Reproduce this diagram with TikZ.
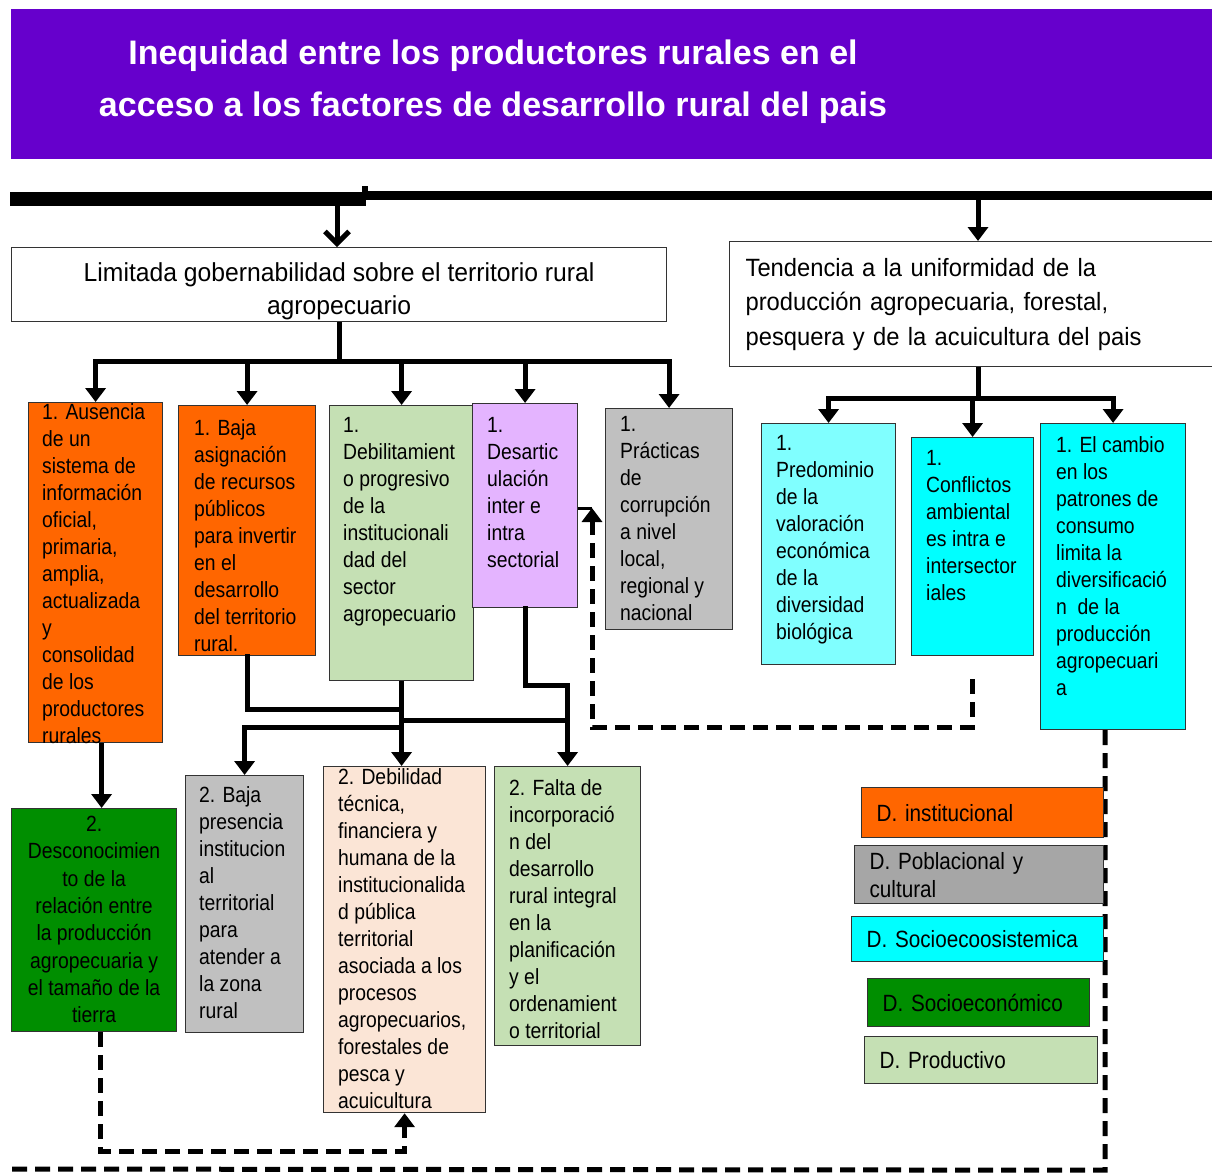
\documentclass[tikz,border=0pt]{standalone}
\usepackage{fontspec}
\setmainfont{Liberation Sans}
\newfontfamily\boxfont[FakeStretch=0.88]{Liberation Sans}
\newfontfamily\headfont[FakeStretch=0.95]{Liberation Sans}
\usetikzlibrary{arrows.meta}
\definecolor{banner}{HTML}{6600CC}
\definecolor{orangebox}{HTML}{FF6600}
\definecolor{greenbox}{HTML}{008E00}
\definecolor{palegreen}{HTML}{C5E0B4}
\definecolor{lavender}{HTML}{E4B4FF}
\definecolor{greybox}{HTML}{C0C0C0}
\definecolor{darkgreybox}{HTML}{A6A6A6}
\definecolor{peach}{HTML}{FBE5D6}
\definecolor{palecyan}{HTML}{80FFFF}
\definecolor{cyanbox}{HTML}{00FFFF}

\begin{document}
\begin{tikzpicture}[x=1pt,y=-1pt,
  cbox/.style={draw=black!80,line width=1.2pt,anchor=north west,inner sep=0pt},
  txt/.style={anchor=north west,align=left,inner sep=0pt,
    font=\boxfont\fontsize{22}{27}\selectfont},
  conn/.style={line width=5pt},
  bus/.style={line width=5pt,line cap=rect},
  arrowed/.style={-{Triangle[width=20pt,length=14pt]}},
  dashline/.style={line width=5pt,dash pattern=on 15pt off 8pt},
  legbox/.style={cbox,align=left,inner xsep=15pt,inner ysep=0pt,
    font=\boxfont\fontsize{23.5}{28}\selectfont}]
\useasboundingbox (0,0) rectangle (1212,1173);
\fill[white] (0,0) rectangle (1212,1173);
% title banner
\node[cbox,draw=none,fill=banner,minimum width=1202pt,minimum height=150pt] (banner) at (10,8) {};
\node[text=white,align=center,font=\bfseries\fontsize{34}{52}\selectfont] (title) at (493,82)
  {Inequidad entre los productores rurales en el\\acceso a los factores de desarrollo rural del pais};
% top bar
\draw[line width=14pt] (10,199) -- (366,199);
\draw[line width=9pt] (362,195) -- (1212,195);
\draw[line width=6pt] (365,186) -- (365,196);
\coordinate (barA) at (337,206);
\coordinate (barB) at (978,200);
% the two problems
\node[cbox,fill=white,minimum width=655pt,minimum height=74pt] (A) at (11,247) {};
\node[align=center,inner sep=0pt,font=\headfont\fontsize{26}{33}\selectfont] (At) at ([yshift=-7pt]A.center)
  {Limitada gobernabilidad sobre el territorio rural\\agropecuario};
\node[cbox,fill=white,minimum height=125pt,text width=460pt,inner xsep=16pt,align=left,
  font=\headfont\fontsize{25}{34.5}\selectfont] (B) at (729,241)
  {Tendencia a la uniformidad de la\\producción agropecuaria, forestal,\\pesquera y de la acuicultura del pais};
% first row of causes
\node[cbox,fill=orangebox,minimum width=134pt,minimum height=340pt] (b1) at (28,402) {};
\node[txt] (b1t) at ([shift={(14pt,-1pt)}]b1.north west)
  {1. Ausencia\\de un\\sistema de\\información\\oficial,\\primaria,\\amplia,\\actualizada\\y\\consolidad\\de los\\productores\\rurales};
\node[cbox,fill=orangebox,minimum width=137pt,minimum height=250pt] (b2) at (178,405) {};
\node[txt] (b2t) at ([shift={(16pt,-14pt)}]b2.north west)
  {1. Baja\\asignación\\de recursos\\públicos\\para invertir\\en el\\desarrollo\\del territorio\\rural.};
\node[cbox,fill=palegreen,minimum width=144pt,minimum height=275pt] (b3) at (329,405) {};
\node[txt] (b3t) at ([shift={(14pt,-12pt)}]b3.north west)
  {1.\\Debilitamient\\o progresivo\\de la\\institucionali\\dad del\\sector\\agropecuario};
\node[cbox,fill=lavender,minimum width=105pt,minimum height=204pt] (b4) at (472,403) {};
\node[txt] (b4t) at ([shift={(15pt,-14pt)}]b4.north west)
  {1.\\Desartic\\ulación\\inter e\\intra\\sectorial};
\node[cbox,fill=greybox,minimum width=127pt,minimum height=221pt] (b5) at (605,408) {};
\node[txt] (b5t) at ([shift={(15pt,-8pt)}]b5.north west)
  {1.\\Prácticas\\de\\corrupción\\a nivel\\local,\\regional y\\nacional};
\node[cbox,fill=palecyan,minimum width=134pt,minimum height=241pt] (b6) at (761,423) {};
\node[txt] (b6t) at ([shift={(15pt,-12pt)}]b6.north west)
  {1.\\Predominio\\de la\\valoración\\económica\\de la\\diversidad\\biológica};
\node[cbox,fill=cyanbox,minimum width=122pt,minimum height=218pt] (b7) at (911,437) {};
\node[txt] (b7t) at ([shift={(15pt,-13pt)}]b7.north west)
  {1.\\Conflictos\\ambiental\\es intra e\\intersector\\iales};
\node[cbox,fill=cyanbox,minimum width=145pt,minimum height=306pt] (b8) at (1040,423) {};
\node[txt] (b8t) at ([shift={(16pt,-13pt)}]b8.north west)
  {1. El cambio\\en los\\patrones de\\consumo\\limita la\\diversificació\\n\ \ de la\\producción\\agropecuari\\a};
% second row of causes
\node[cbox,fill=greenbox,minimum width=165pt,minimum height=223pt] (b9) at (11,808) {};
\node[txt,anchor=north,align=center,font=\boxfont\fontsize{22}{27.3}\selectfont] (b9t) at ([yshift=-8pt]b9.north)
  {2.\\Desconocimien\\to de la\\relación entre\\la producción\\agropecuaria y\\el tamaño de la\\tierra};
\node[cbox,fill=greybox,minimum width=118pt,minimum height=257pt] (b10) at (185,775) {};
\node[txt] (b10t) at ([shift={(14pt,-11pt)}]b10.north west)
  {2. Baja\\presencia\\institucion\\al\\territorial\\para\\atender a\\la zona\\rural};
\node[cbox,fill=peach,minimum width=162pt,minimum height=346pt] (b11) at (323,766) {};
\node[txt] (b11t) at ([shift={(15pt,-2pt)}]b11.north west)
  {2. Debilidad\\técnica,\\financiera y\\humana de la\\institucionalida\\d pública\\territorial\\asociada a los\\procesos\\agropecuarios,\\forestales de\\pesca y\\acuicultura};
\node[cbox,fill=palegreen,minimum width=146pt,minimum height=279pt] (b12) at (494,766) {};
\node[txt] (b12t) at ([shift={(15pt,-13pt)}]b12.north west)
  {2. Falta de\\incorporació\\n del\\desarrollo\\rural integral\\en la\\planificación\\y el\\ordenamient\\o territorial};
% arrows from the top bar
\draw[conn,-{Straight Barb[width=24pt,length=12pt]}] (barA) -- (barA |- A.north);
\draw[conn,arrowed] (barB) -- (barB |- B.north);
% branches under A
\draw[conn] (A.south) -- ++(0,39) coordinate (busA);
\draw[bus] (b1.north |- busA) -- (b5.north |- busA);
\foreach \n in {b1,b2,b3,b4,b5}
  \draw[conn,arrowed] (\n.north |- busA) -- (\n.north);
% branches under B
\draw[conn] (barB |- B.south) -- ++(0,31) coordinate (busB);
\draw[bus] (b6.north |- busB) -- (b8.north |- busB);
\foreach \n in {b6,b7,b8}
  \draw[conn,arrowed] (\n.north |- busB) -- (\n.north);
% links to the second row
\draw[conn,arrowed] ([xshift=6pt]b1.south) -- ([xshift=6pt]b1.south |- b9.north);
\draw[bus] (b2.south) -- (b2.south |- 0,709) -- (b3.south |- 0,709);
\draw[conn,arrowed] (b3.south) -- (b3.south |- b11.north);
\draw[bus] (b3.south |- 0,727) -- (b10.north |- 0,727);
\draw[conn,arrowed] (b10.north |- 0,727) -- (b10.north);
\draw[bus] (b4.south) -- (b4.south |- 0,685) -- (b12.north |- 0,685);
\draw[conn,arrowed] (b12.north |- 0,685) -- (b12.north);
\draw[bus] (b3.south |- 0,720) -- (b12.north |- 0,720);
% dashed feedback lines
\draw[dashline,arrowed] ([xshift=6pt]b9.south) -- ++(0,119) -| (b11.south);
\coordinate (dtip) at (592,508);
\draw[dashline,arrowed] ([yshift=-23pt]b7.south) -- ++(0,48) -| (dtip);
\draw[line width=3pt] (dtip) -- (b4.east |- dtip);
\draw[dashline] ([xshift=-8pt]b8.south) -- ++(0,440) -- (10,1169);
% dimensions legend
\node[legbox,fill=orangebox,text width=212pt,minimum height=50pt] (l1) at (861,787) {D. institucional};
\node[legbox,fill=darkgreybox,text width=219pt,minimum height=58pt] (l2) at (854,845) {D. Poblacional y\\cultural};
\node[legbox,fill=cyanbox,text width=222pt,minimum height=45pt] (l3) at (851,916) {D. Socioecoosistemica};
\node[legbox,fill=greenbox,text width=192pt,minimum height=48pt] (l4) at (867,978) {D. Socioeconómico};
\node[legbox,fill=palegreen,text width=203pt,minimum height=47pt] (l5) at (864,1036) {D. Productivo};
\end{tikzpicture}
\end{document}
